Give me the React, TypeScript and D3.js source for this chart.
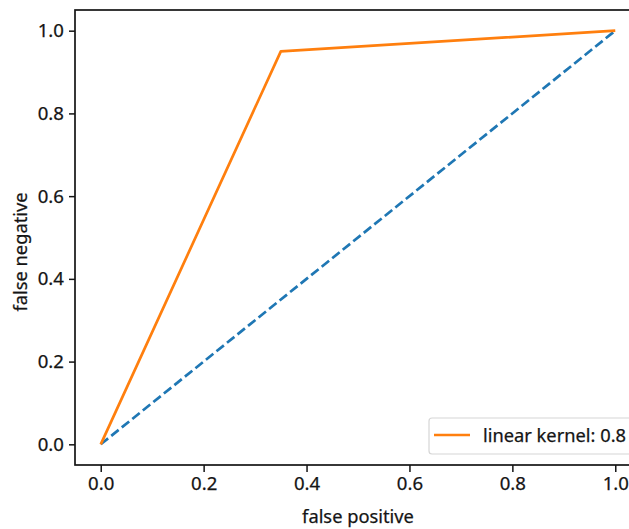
import React, { useEffect, useRef } from "react";
import * as d3 from "d3";

// ROC curve points (false positive, false negative)
const rocFpr = [0.0, 0.35, 1.0];
const rocTpr = [0.0, 0.95, 1.0];
const chanceFpr = [0.0, 1.0];
const chanceTpr = [0.0, 1.0];
const xTicks = [0.0, 0.2, 0.4, 0.6, 0.8, 1.0];
const yTicks = [0.0, 0.2, 0.4, 0.6, 0.8, 1.0];
const legendLabel = "linear kernel: 0.8";

const App = () => {
    const svgRef = useRef<SVGSVGElement>(null);

    useEffect(() => {
        const width = 629;
        const height = 529;
        const font = "'Noto Sans', sans-serif";
        const ink = "#151515";

        const svg = d3.select(svgRef.current)
            .attr("width", width)
            .attr("height", height);
        svg.selectAll("*").remove();

        svg.append("rect").attr("width", width).attr("height", height).attr("fill", "white");

        // plot area (right edge runs past the picture)
        const left = 75, top = 10, bottom = 465, right = 641;

        const xScale = d3.scaleLinear().domain([-0.05, 1.05]).range([left, right]);
        const yScale = d3.scaleLinear().domain([-0.05, 1.05]).range([bottom, top]);

        const line = d3.line<[number, number]>()
            .x(d => xScale(d[0]))
            .y(d => yScale(d[1]));

        // chance line
        svg.append("path")
            .datum(chanceFpr.map((v, i) => [v, chanceTpr[i]] as [number, number]))
            .attr("d", line)
            .attr("fill", "none")
            .attr("stroke", "#1f77b4")
            .attr("stroke-width", 2.7)
            .attr("stroke-dasharray", "9.5,4");

        // roc curve
        svg.append("path")
            .datum(rocFpr.map((v, i) => [v, rocTpr[i]] as [number, number]))
            .attr("d", line)
            .attr("fill", "none")
            .attr("stroke", "#ff7f0e")
            .attr("stroke-width", 2.7)
            .attr("stroke-linejoin", "round");

        // axes
        const xAxis = d3.axisBottom(xScale)
            .tickValues(xTicks)
            .tickFormat(d3.format(".1f"))
            .tickSize(7)
            .tickPadding(5);
        const gx = svg.append("g")
            .attr("transform", `translate(0,${bottom})`)
            .call(xAxis);

        const yAxis = d3.axisLeft(yScale)
            .tickValues(yTicks)
            .tickFormat(d3.format(".1f"))
            .tickSize(6)
            .tickPadding(5);
        const gy = svg.append("g")
            .attr("transform", `translate(${left},0)`)
            .call(yAxis);

        [gx, gy].forEach(g => {
            g.select(".domain").remove();
            g.selectAll(".tick line").attr("stroke", ink).attr("stroke-width", 1.5);
            g.selectAll(".tick text")
                .attr("fill", ink)
                .attr("stroke", ink)
                .attr("stroke-width", 0.25)
                .style("font-family", font)
                .style("font-size", "18.6px");
        });

        // spines
        svg.append("rect")
            .attr("x", left)
            .attr("y", top)
            .attr("width", right - left)
            .attr("height", bottom - top)
            .attr("fill", "none")
            .attr("stroke", ink)
            .attr("stroke-width", 1.7);

        // axis labels
        svg.append("text")
            .attr("x", 358)
            .attr("y", 522.5)
            .attr("text-anchor", "middle")
            .attr("fill", ink)
            .attr("stroke", ink)
            .attr("stroke-width", 0.25)
            .style("font-family", font)
            .style("font-size", "18.3px")
            .text("false positive");

        svg.append("text")
            .attr("transform", `translate(27,252) rotate(-90)`)
            .attr("text-anchor", "middle")
            .attr("fill", ink)
            .attr("stroke", ink)
            .attr("stroke-width", 0.25)
            .style("font-family", font)
            .style("font-size", "18.3px")
            .text("false negative");

        // legend
        const legend = svg.append("g");
        legend.append("rect")
            .attr("x", 429)
            .attr("y", 418)
            .attr("width", 230)
            .attr("height", 36)
            .attr("rx", 3)
            .attr("fill", "white")
            .attr("fill-opacity", 0.8)
            .attr("stroke", "#d6d6d6")
            .attr("stroke-width", 1.2);
        legend.append("line")
            .attr("x1", 434)
            .attr("x2", 470)
            .attr("y1", 435)
            .attr("y2", 435)
            .attr("stroke", "#ff7f0e")
            .attr("stroke-width", 2.7);
        legend.append("text")
            .attr("x", 483)
            .attr("y", 442)
            .attr("fill", ink)
            .attr("stroke", ink)
            .attr("stroke-width", 0.25)
            .style("font-family", font)
            .style("font-size", "18.3px")
            .text(legendLabel);
    }, []);

    return (
        <svg ref={svgRef} style={{ position: "absolute", left: 0, top: 0, display: "block" }}></svg>
    );
};

export default App;
